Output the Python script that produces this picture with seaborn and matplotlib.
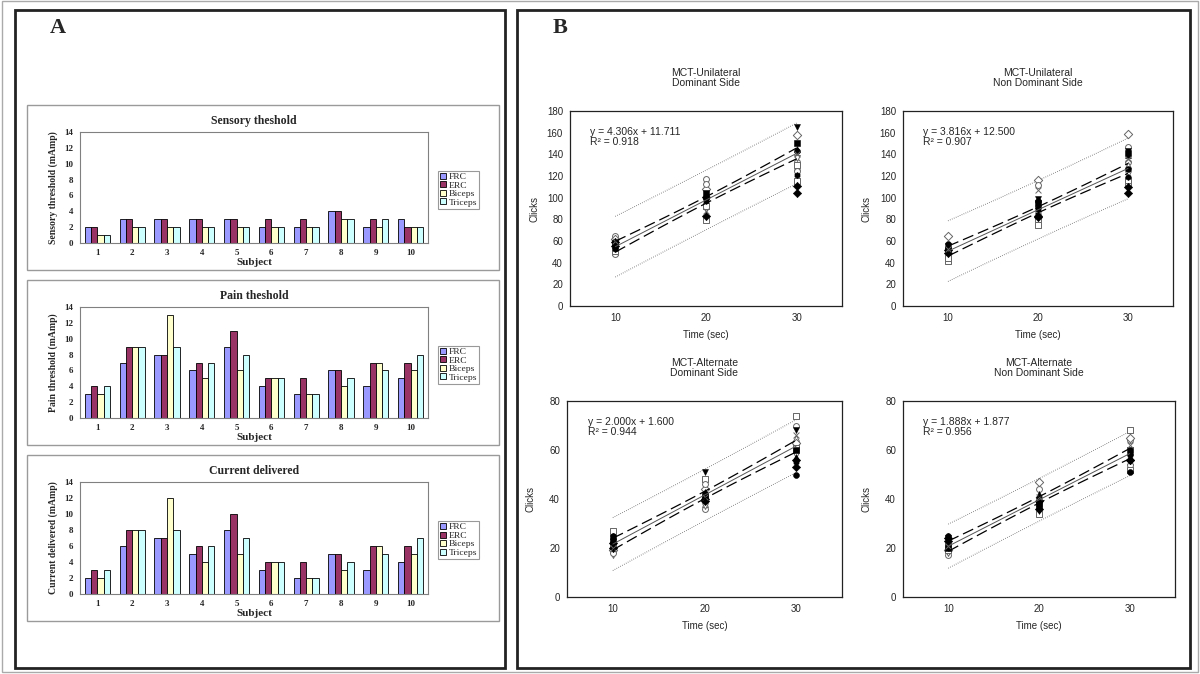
import numpy as np
import pandas as pd
import matplotlib
matplotlib.use('Agg')
import matplotlib.pyplot as plt
import seaborn as sns
from matplotlib.patches import Rectangle

# ── Panel A data: threshold per subject and muscle ─────────────
subjects = [str(i) for i in range(1, 11)]
muscles = ['FRC', 'ERC', 'Biceps', 'Triceps']
bar_colors = ['#9999FF', '#993366', '#FFFFCC', '#CCFFFF']

sensory_frc = [2, 3, 3, 3, 3, 2, 2, 4, 2, 3]
sensory_erc = [2, 3, 3, 3, 3, 3, 3, 4, 3, 2]
sensory_bic = [1, 2, 2, 2, 2, 2, 2, 3, 2, 2]
sensory_tri = [1, 2, 2, 2, 2, 2, 2, 3, 3, 2]

pain_frc = [3, 7, 8, 6, 9, 4, 3, 6, 4, 5]
pain_erc = [4, 9, 8, 7, 11, 5, 5, 6, 7, 7]
pain_bic = [3, 9, 13, 5, 6, 5, 3, 4, 7, 6]
pain_tri = [4, 9, 9, 7, 8, 5, 3, 5, 6, 8]

current_frc = [2, 6, 7, 5, 8, 3, 2, 5, 3, 4]
current_erc = [3, 8, 7, 6, 10, 4, 4, 5, 6, 6]
current_bic = [2, 8, 12, 4, 5, 4, 2, 3, 6, 5]
current_tri = [3, 8, 8, 6, 7, 4, 2, 4, 5, 7]

bar_titles = ['Sensory theshold', 'Pain theshold', 'Current delivered']
bar_ylabels = ['Sensory threshold (mAmp)', 'Pain threshold (mAmp)',
               'Current delivered (mAmp)']

# ── Panel B data: clicks at 10/20/30 s ─────────────────────────
times = [10, 20, 30]

uni_dom_10 = [57, 65, 54, 52, 58, 50, 55, 62, 56, 49, 53, 48, 59, 60, 51]
uni_dom_20 = [100, 117, 98, 95, 104, 79, 83, 108, 102, 90, 97, 113, 101, 88, 92]
uni_dom_30 = [143, 133, 165, 128, 150, 115, 111, 158, 145, 137, 121, 125, 104, 140, 130]

uni_nd_10 = [57, 50, 55, 48, 53, 42, 52, 65, 56, 46, 54, 51, 49, 53, 44]
uni_nd_20 = [97, 91, 99, 88, 95, 75, 83, 116, 93, 85, 90, 112, 82, 107, 80]
uni_nd_30 = [126, 133, 143, 130, 141, 113, 104, 159, 139, 122, 119, 147, 110, 136, 116]

alt_dom_10 = [25, 22, 24, 21, 23, 27, 20, 19, 25, 17, 24, 18, 22, 20, 21]
alt_dom_20 = [42, 36, 51, 38, 41, 48, 40, 44, 43, 37, 42, 46, 39, 41, 40]
alt_dom_30 = [50, 62, 68, 65, 60, 74, 56, 63, 57, 58, 55, 70, 53, 66, 61]

alt_nd_10 = [25, 17, 24, 22, 20, 21, 23, 19, 25, 18, 22, 20, 24, 21, 19]
alt_nd_20 = [39, 44, 35, 40, 38, 34, 36, 47, 42, 37, 40, 36, 39, 41, 38]
alt_nd_30 = [51, 64, 57, 55, 60, 68, 56, 65, 59, 53, 58, 54, 56, 62, 52]

mct_titles = ['MCT-Unilateral\nDominant Side', 'MCT-Unilateral\nNon Dominant Side',
              'MCT-Alternate\nDominant Side', 'MCT-Alternate\nNon Dominant Side']
fit_slope = [4.306, 3.816, 2.000, 1.888]
fit_intercept = [11.711, 12.500, 1.600, 1.877]
fit_r2 = [0.918, 0.907, 0.944, 0.956]
# half-widths of 95% confidence / prediction bands at 20 s (mid) and 10/30 s (end)
ci_mid = [3.0, 2.8, 1.5, 1.3]
ci_end = [5.0, 4.6, 2.4, 2.1]
pi_mid = [27.5, 27.0, 10.5, 8.7]
pi_end = [28.0, 28.0, 10.8, 9.0]
y_max = [180, 180, 80, 80]

# ── Figure setup ───────────────────────────────────────────────
sns.set_style('white')
plt.rcParams['font.family'] = ['Liberation Sans', 'DejaVu Sans']
SERIF = ['Liberation Serif', 'DejaVu Serif']

fig = plt.figure(figsize=(12, 6.74), dpi=100)
W, H = 1200, 674


def box(l, t, r, b):
    return [l / W, 1 - b / H, (r - l) / W, (b - t) / H]


def frame(l, t, r, b, lw, ec):
    x, y, w, h = box(l, t, r, b)
    fig.patches.append(Rectangle((x, y), w, h, transform=fig.transFigure,
                                 fill=False, lw=lw, ec=ec, zorder=0))


frame(2, 1, 1198, 672, 1.0, '#aaaaaa')
frame(15, 10, 505, 668, 2.0, '#222222')
frame(517, 10, 1190, 668, 2.0, '#222222')
fig.text(58 / W, 1 - 28 / H, 'A', family=SERIF, fontsize=16, fontweight='bold',
         ha='center', va='center')
fig.text(560 / W, 1 - 28 / H, 'B', family=SERIF, fontsize=16, fontweight='bold',
         ha='center', va='center')

# ── Panel A: grouped bar charts ────────────────────────────────
bar_sets = [
    [sensory_frc, sensory_erc, sensory_bic, sensory_tri],
    [pain_frc, pain_erc, pain_bic, pain_tri],
    [current_frc, current_erc, current_bic, current_tri],
]
bar_boxes = [(105, 270), (280, 445), (455, 621)]
bar_axes = [(132, 243), (307, 418), (482, 594)]

for k, series in enumerate(bar_sets):
    frame(27, bar_boxes[k][0], 499, bar_boxes[k][1], 1.0, '#9a9a9a')
    ax = fig.add_axes(box(80, bar_axes[k][0], 428, bar_axes[k][1]))
    df = pd.DataFrame({
        'Subject': subjects * 4,
        'Muscle': np.repeat(muscles, 10),
        'Value': np.concatenate(series),
    })
    sns.barplot(data=df, x='Subject', y='Value', hue='Muscle', palette=bar_colors,
                width=0.72, edgecolor='black', linewidth=0.6, ax=ax, saturation=1)
    ax.set_ylim(0, 14)
    ax.set_yticks(range(0, 15, 2))
    ax.set_xlim(-0.5, 9.5)
    ax.set_xticks(np.arange(-0.5, 10, 1), minor=True)
    ax.tick_params(axis='x', which='major', length=0, pad=4)
    ax.tick_params(axis='x', which='minor', length=3, color='#808080', direction='out')
    ax.tick_params(axis='y', length=3, color='#808080', direction='out', pad=2)
    for lab in ax.get_xticklabels() + ax.get_yticklabels():
        lab.set_family(SERIF)
        lab.set_fontweight('bold')
        lab.set_fontsize(6.5)
    for sp in ax.spines.values():
        sp.set_color('#808080')
        sp.set_linewidth(0.8)
    ax.set_title(bar_titles[k], family=SERIF, fontweight='bold', fontsize=8.5, pad=6)
    ax.set_xlabel('Subject', family=SERIF, fontweight='bold', fontsize=8, labelpad=1)
    ax.set_ylabel(bar_ylabels[k], family=SERIF, fontweight='bold', fontsize=7, labelpad=4)
    handles, labels = ax.get_legend_handles_labels()
    leg = ax.legend(handles, labels, loc='upper left', bbox_to_anchor=(1.029, 0.65),
                    prop={'family': SERIF, 'size': 6.8}, frameon=True, fancybox=False,
                    handlelength=0.6, handleheight=0.6, handletextpad=0.3,
                    labelspacing=0.02, borderpad=0.2, borderaxespad=0)
    leg.get_frame().set_edgecolor('#808080')
    leg.get_frame().set_linewidth(0.8)

# ── Panel B: regression scatter plots ──────────────────────────
mct_data = [
    [uni_dom_10, uni_dom_20, uni_dom_30],
    [uni_nd_10, uni_nd_20, uni_nd_30],
    [alt_dom_10, alt_dom_20, alt_dom_30],
    [alt_nd_10, alt_nd_20, alt_nd_30],
]
mct_boxes = [(570, 111, 842, 306), (903, 111, 1173, 306),
             (567, 401, 842, 597), (903, 401, 1175, 597)]
marker_cycle = [('o', True), ('o', False), ('v', True), ('^', False), ('s', True),
                ('s', False), ('D', True), ('D', False), ('^', True), ('v', False),
                ('h', True), ('o', False), ('D', True), ('x', False), ('s', False)]

for k in range(4):
    l, t, r, b = mct_boxes[k]
    ax = fig.add_axes(box(l, t, r, b))
    cols = mct_data[k]
    for i, (m, filled) in enumerate(marker_cycle):
        ys = [cols[j][i] for j in range(3)]
        if m == 'x':
            ax.scatter(times, ys, marker=m, s=18, c='#666666', linewidths=0.7, zorder=4)
        elif filled:
            ax.scatter(times, ys, marker=m, s=18, c='black', edgecolors='black',
                       linewidths=0.4, zorder=4)
        else:
            ax.scatter(times, ys, marker=m, s=18, facecolors='white',
                       edgecolors='#666666', linewidths=0.7, zorder=3)

    xs = np.linspace(times[0], times[-1], 60)
    fit = fit_slope[k] * xs + fit_intercept[k]
    u = ((xs - times[1]) / (times[1] - times[0])) ** 2
    ci = np.sqrt(ci_mid[k] ** 2 + (ci_end[k] ** 2 - ci_mid[k] ** 2) * u)
    pi = np.sqrt(pi_mid[k] ** 2 + (pi_end[k] ** 2 - pi_mid[k] ** 2) * u)
    ax.plot(xs, fit, color='#555555', lw=0.7, zorder=5)
    for sgn in (1, -1):
        ax.plot(xs, fit + sgn * ci, color='black', lw=0.9, ls=(0, (9, 4)), zorder=5)
        ax.plot(xs, fit + sgn * pi, color='#444444', lw=0.7, ls=(0, (0.6, 1.6)), zorder=2)

    ax.set_xlim(5, 35)
    ax.set_ylim(0, y_max[k])
    ax.set_xticks(times)
    ax.set_yticks(range(0, y_max[k] + 1, 20))
    ax.tick_params(direction='out', length=3, width=0.8, labelsize=7, pad=2,
                   color='black')
    for sp in ax.spines.values():
        sp.set_color('#222222')
        sp.set_linewidth(0.9)
    ax.set_title(mct_titles[k], fontsize=7.5, pad=18, linespacing=1.05)
    ax.set_xlabel('Time (sec)', fontsize=7, va='center')
    ax.xaxis.set_label_coords(0.5, -29 / (b - t))
    ax.set_ylabel('Clicks', fontsize=7, va='center')
    ax.yaxis.set_label_coords(-36 / (r - l), 0.5)
    eq = f'y = {fit_slope[k]:.3f}x + {fit_intercept[k]:.3f}\nR\u00b2 = {fit_r2[k]:.3f}'
    ax.text(0.075, 0.92, eq, transform=ax.transAxes, fontsize=7.5, va='top',
            ha='left', linespacing=1.0)

fig.savefig('out.png', dpi=100)
